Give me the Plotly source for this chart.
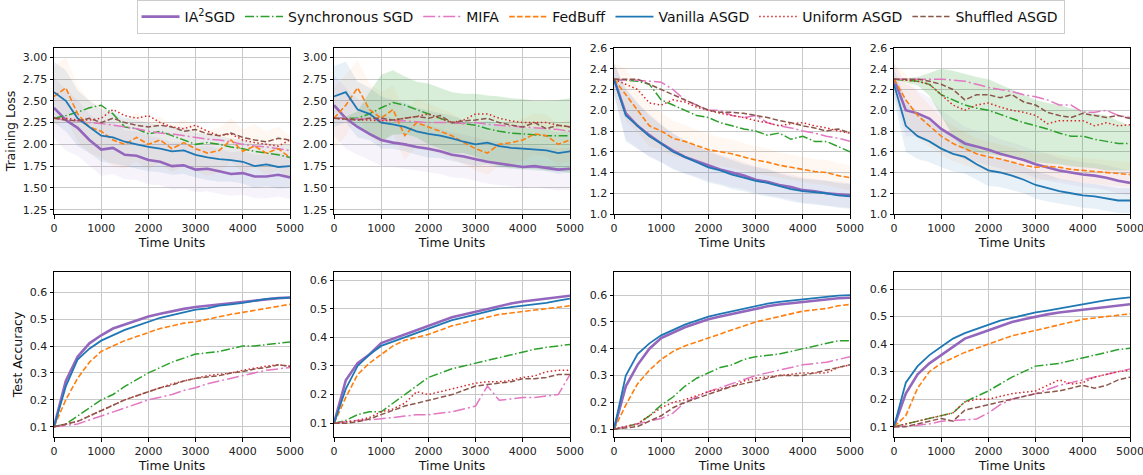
import plotly.graph_objects as go
from plotly.subplots import make_subplots

TIME = list(range(0, 5001, 250))
NAMES = ["IA<sup>2</sup>SGD", "Synchronous SGD", "MIFA", "FedBuff",
         "Vanilla ASGD", "Uniform ASGD", "Shuffled ASGD"]
KEYS = ["ia2", "sync", "mifa", "fedbuff", "vanilla", "uniform", "shuffled"]

# ---------------- Training loss panels ----------------
L1_ia2 = [2.42, 2.28, 2.19, 2.05, 1.94, 1.96, 1.88, 1.87, 1.82, 1.80, 1.75, 1.76, 1.71, 1.72, 1.69, 1.66, 1.67, 1.63, 1.63, 1.65, 1.62]
L1_sync = [2.30, 2.33, 2.37, 2.42, 2.45, 2.35, 2.20, 2.18, 2.12, 2.15, 2.10, 2.05, 2.00, 2.02, 2.00, 1.97, 1.95, 1.92, 1.90, 1.88, 1.85]
L1_mifa = [2.30, 2.28, 2.27, 2.25, 2.24, 2.22, 2.20, 2.18, 2.15, 2.13, 2.12, 2.10, 2.08, 2.06, 2.05, 2.03, 2.00, 1.98, 1.97, 1.95, 1.93]
L1_fedbuff = [2.55, 2.65, 2.35, 2.20, 2.15, 2.05, 2.00, 2.08, 2.00, 2.05, 1.95, 2.02, 1.95, 1.90, 1.93, 2.05, 1.92, 1.98, 1.90, 1.95, 1.85]
L1_vanilla = [2.60, 2.50, 2.30, 2.20, 2.10, 2.08, 2.03, 2.00, 1.97, 1.95, 1.92, 1.93, 1.88, 1.85, 1.83, 1.82, 1.80, 1.75, 1.77, 1.74, 1.75]
L1_uniform = [2.30, 2.30, 2.28, 2.28, 2.30, 2.40, 2.33, 2.30, 2.33, 2.25, 2.20, 2.18, 2.22, 2.15, 2.10, 2.12, 2.05, 2.02, 2.00, 1.98, 2.05]
L1_shuffled = [2.30, 2.28, 2.27, 2.30, 2.25, 2.30, 2.25, 2.22, 2.20, 2.22, 2.20, 2.15, 2.17, 2.12, 2.10, 2.13, 2.08, 2.05, 2.03, 2.07, 2.05]
L1_spread = [0.35, 0.35, 0.32, 0.30, 0.30, 0.30, 0.28, 0.28, 0.28, 0.27, 0.27, 0.27, 0.26, 0.26, 0.26, 0.25, 0.25, 0.25, 0.25, 0.25, 0.25]

L2_ia2 = [2.45, 2.30, 2.20, 2.12, 2.05, 2.02, 2.00, 1.97, 1.95, 1.92, 1.88, 1.86, 1.83, 1.80, 1.78, 1.76, 1.74, 1.75, 1.73, 1.71, 1.72]
L2_sync = [2.30, 2.30, 2.30, 2.35, 2.42, 2.48, 2.45, 2.40, 2.35, 2.30, 2.25, 2.24, 2.22, 2.18, 2.15, 2.13, 2.12, 2.11, 2.10, 2.10, 2.10]
L2_sync_hi = [2.30, 2.32, 2.38, 2.60, 2.80, 2.85, 2.78, 2.72, 2.70, 2.65, 2.60, 2.58, 2.58, 2.56, 2.55, 2.53, 2.52, 2.50, 2.50, 2.51, 2.53]
L2_sync_lo = [2.30, 2.28, 2.22, 2.10, 2.04, 2.11, 2.12, 2.08, 2.00, 1.95, 1.90, 1.90, 1.86, 1.80, 1.75, 1.73, 1.72, 1.72, 1.70, 1.69, 1.67]
L2_mifa = [2.30, 2.30, 2.29, 2.29, 2.28, 2.27, 2.27, 2.26, 2.25, 2.25, 2.25, 2.24, 2.25, 2.23, 2.22, 2.21, 2.20, 2.19, 2.18, 2.17, 2.15]
L2_fedbuff = [2.30, 2.45, 2.65, 2.40, 2.30, 2.40, 2.10, 2.25, 2.20, 2.15, 2.10, 2.02, 1.95, 1.90, 2.00, 2.02, 2.05, 2.12, 2.10, 2.00, 2.05]
L2_vanilla = [2.55, 2.60, 2.40, 2.35, 2.25, 2.23, 2.20, 2.15, 2.12, 2.10, 2.07, 2.03, 2.00, 2.02, 1.98, 1.96, 1.95, 1.94, 1.93, 1.90, 1.92]
L2_uniform = [2.30, 2.29, 2.28, 2.28, 2.27, 2.28, 2.30, 2.32, 2.35, 2.30, 2.25, 2.28, 2.35, 2.35, 2.30, 2.27, 2.25, 2.25, 2.25, 2.22, 2.20]
L2_shuffled = [2.30, 2.29, 2.28, 2.30, 2.30, 2.28, 2.30, 2.32, 2.30, 2.33, 2.25, 2.27, 2.28, 2.30, 2.25, 2.22, 2.20, 2.25, 2.18, 2.22, 2.20]
L2_spread = [0.35, 0.35, 0.32, 0.30, 0.30, 0.28, 0.28, 0.27, 0.27, 0.26, 0.26, 0.25, 0.25, 0.25, 0.25, 0.24, 0.24, 0.24, 0.24, 0.24, 0.24]

L3_ia2 = [2.30, 1.97, 1.85, 1.76, 1.68, 1.61, 1.55, 1.51, 1.47, 1.43, 1.40, 1.37, 1.33, 1.31, 1.28, 1.26, 1.23, 1.22, 1.20, 1.19, 1.18]
L3_sync = [2.30, 2.29, 2.28, 2.25, 2.10, 2.05, 2.00, 1.95, 1.93, 1.88, 1.85, 1.82, 1.80, 1.76, 1.78, 1.72, 1.75, 1.70, 1.70, 1.65, 1.60]
L3_mifa = [2.30, 2.29, 2.29, 2.28, 2.27, 2.20, 2.10, 2.05, 2.00, 2.00, 1.95, 1.93, 1.95, 1.88, 1.85, 1.83, 1.80, 1.78, 1.75, 1.73, 1.70]
L3_fedbuff = [2.30, 2.15, 2.00, 1.85, 1.80, 1.73, 1.70, 1.66, 1.62, 1.60, 1.58, 1.55, 1.52, 1.50, 1.47, 1.45, 1.43, 1.41, 1.40, 1.37, 1.35]
L3_vanilla = [2.30, 1.95, 1.85, 1.75, 1.68, 1.60, 1.55, 1.50, 1.45, 1.42, 1.38, 1.35, 1.32, 1.30, 1.27, 1.24, 1.22, 1.21, 1.20, 1.18, 1.17]
L3_uniform = [2.30, 2.25, 2.20, 2.07, 2.05, 2.10, 2.08, 2.03, 2.00, 1.97, 1.95, 1.93, 1.90, 1.88, 1.85, 1.87, 1.88, 1.85, 1.83, 1.80, 1.78]
L3_shuffled = [2.30, 2.30, 2.30, 2.25, 2.20, 2.15, 2.10, 2.05, 2.00, 1.98, 1.98, 1.97, 1.95, 1.93, 1.90, 1.88, 1.85, 1.83, 1.80, 1.82, 1.78]
L3_spread = [0.15, 0.25, 0.22, 0.20, 0.18, 0.17, 0.16, 0.15, 0.15, 0.14, 0.14, 0.13, 0.13, 0.13, 0.12, 0.12, 0.12, 0.12, 0.12, 0.12, 0.12]

L4_ia2 = [2.30, 2.00, 1.97, 1.92, 1.82, 1.75, 1.68, 1.65, 1.62, 1.58, 1.55, 1.52, 1.48, 1.45, 1.42, 1.40, 1.38, 1.37, 1.35, 1.32, 1.30]
L4_sync = [2.30, 2.29, 2.28, 2.25, 2.15, 2.10, 2.05, 2.02, 2.00, 1.96, 1.92, 1.88, 1.85, 1.82, 1.78, 1.75, 1.75, 1.72, 1.70, 1.68, 1.68]
L4_sync_hi = [2.30, 2.31, 2.32, 2.36, 2.40, 2.38, 2.35, 2.32, 2.30, 2.25, 2.20, 2.15, 2.10, 2.07, 2.05, 2.02, 2.00, 1.97, 1.95, 1.90, 1.85]
L4_sync_lo = [2.30, 2.27, 2.24, 2.14, 1.95, 1.75, 1.62, 1.60, 1.58, 1.56, 1.55, 1.52, 1.50, 1.49, 1.48, 1.46, 1.45, 1.44, 1.42, 1.42, 1.42]
L4_mifa = [2.30, 2.30, 2.30, 2.30, 2.30, 2.29, 2.28, 2.25, 2.22, 2.20, 2.18, 2.15, 2.13, 2.10, 2.05, 2.05, 1.98, 1.98, 2.00, 1.95, 1.93]
L4_fedbuff = [2.30, 2.10, 1.95, 1.85, 1.75, 1.68, 1.63, 1.58, 1.55, 1.53, 1.50, 1.47, 1.45, 1.46, 1.45, 1.43, 1.42, 1.41, 1.40, 1.39, 1.38]
L4_vanilla = [2.25, 1.85, 1.75, 1.70, 1.63, 1.58, 1.55, 1.48, 1.42, 1.40, 1.37, 1.33, 1.28, 1.25, 1.22, 1.20, 1.18, 1.17, 1.15, 1.13, 1.13]
L4_uniform = [2.30, 2.29, 2.28, 2.25, 2.15, 2.05, 2.00, 2.05, 2.07, 2.03, 2.00, 1.98, 1.95, 1.87, 1.90, 1.90, 1.90, 1.85, 1.88, 1.85, 1.86]
L4_shuffled = [2.30, 2.30, 2.30, 2.28, 2.25, 2.20, 2.10, 2.15, 2.15, 2.12, 2.15, 2.08, 2.05, 1.98, 1.95, 1.93, 1.97, 1.95, 1.93, 1.95, 1.92]
L4_spread = [0.15, 0.25, 0.22, 0.20, 0.18, 0.17, 0.16, 0.15, 0.15, 0.14, 0.14, 0.13, 0.13, 0.13, 0.12, 0.12, 0.12, 0.12, 0.12, 0.12, 0.12]

# ---------------- Test accuracy panels ----------------
A1_ia2 = [0.10, 0.27, 0.36, 0.41, 0.44, 0.465, 0.48, 0.495, 0.51, 0.52, 0.53, 0.538, 0.545, 0.55, 0.555, 0.56, 0.565, 0.57, 0.575, 0.578, 0.58]
A1_sync = [0.10, 0.11, 0.14, 0.17, 0.20, 0.22, 0.25, 0.275, 0.30, 0.32, 0.34, 0.355, 0.37, 0.375, 0.38, 0.39, 0.40, 0.40, 0.405, 0.41, 0.415]
A1_mifa = [0.10, 0.105, 0.11, 0.125, 0.14, 0.155, 0.17, 0.185, 0.20, 0.21, 0.22, 0.235, 0.245, 0.26, 0.27, 0.28, 0.29, 0.30, 0.31, 0.315, 0.32]
A1_fedbuff = [0.10, 0.20, 0.28, 0.34, 0.38, 0.40, 0.42, 0.435, 0.45, 0.465, 0.475, 0.485, 0.49, 0.50, 0.51, 0.518, 0.525, 0.532, 0.54, 0.548, 0.555]
A1_vanilla = [0.10, 0.25, 0.35, 0.39, 0.42, 0.44, 0.46, 0.475, 0.49, 0.505, 0.515, 0.525, 0.535, 0.54, 0.55, 0.555, 0.56, 0.568, 0.575, 0.578, 0.58]
A1_uniform = [0.10, 0.11, 0.12, 0.14, 0.16, 0.18, 0.20, 0.215, 0.23, 0.245, 0.26, 0.27, 0.28, 0.29, 0.295, 0.30, 0.31, 0.318, 0.325, 0.33, 0.325]
A1_shuffled = [0.10, 0.11, 0.12, 0.14, 0.16, 0.18, 0.20, 0.215, 0.23, 0.245, 0.255, 0.27, 0.28, 0.285, 0.29, 0.30, 0.305, 0.315, 0.32, 0.33, 0.325]

A2_ia2 = [0.10, 0.25, 0.31, 0.34, 0.38, 0.395, 0.41, 0.425, 0.44, 0.455, 0.47, 0.48, 0.49, 0.50, 0.51, 0.518, 0.525, 0.53, 0.535, 0.54, 0.545]
A2_sync = [0.10, 0.11, 0.13, 0.14, 0.14, 0.17, 0.20, 0.23, 0.26, 0.275, 0.29, 0.30, 0.31, 0.32, 0.33, 0.34, 0.35, 0.358, 0.365, 0.37, 0.375]
A2_mifa = [0.10, 0.105, 0.11, 0.112, 0.115, 0.12, 0.125, 0.13, 0.13, 0.135, 0.14, 0.15, 0.16, 0.23, 0.18, 0.185, 0.19, 0.19, 0.195, 0.20, 0.27]
A2_fedbuff = [0.10, 0.19, 0.27, 0.31, 0.34, 0.37, 0.39, 0.40, 0.41, 0.425, 0.44, 0.45, 0.46, 0.47, 0.48, 0.485, 0.49, 0.495, 0.50, 0.505, 0.51]
A2_vanilla = [0.10, 0.22, 0.30, 0.34, 0.37, 0.385, 0.40, 0.415, 0.43, 0.445, 0.46, 0.47, 0.48, 0.49, 0.50, 0.505, 0.51, 0.515, 0.52, 0.528, 0.535]
A2_uniform = [0.10, 0.105, 0.11, 0.12, 0.14, 0.15, 0.17, 0.21, 0.20, 0.21, 0.22, 0.23, 0.24, 0.245, 0.245, 0.25, 0.26, 0.265, 0.28, 0.285, 0.285]
A2_shuffled = [0.10, 0.10, 0.105, 0.115, 0.13, 0.145, 0.16, 0.17, 0.18, 0.19, 0.20, 0.215, 0.23, 0.235, 0.24, 0.245, 0.255, 0.255, 0.26, 0.27, 0.27]

A3_ia2 = [0.10, 0.26, 0.34, 0.40, 0.44, 0.46, 0.48, 0.495, 0.51, 0.52, 0.53, 0.54, 0.55, 0.558, 0.565, 0.57, 0.575, 0.58, 0.585, 0.588, 0.59]
A3_sync = [0.10, 0.11, 0.12, 0.15, 0.19, 0.22, 0.26, 0.29, 0.31, 0.33, 0.34, 0.36, 0.37, 0.375, 0.38, 0.39, 0.40, 0.41, 0.42, 0.43, 0.43]
A3_mifa = [0.10, 0.11, 0.12, 0.13, 0.14, 0.16, 0.20, 0.22, 0.24, 0.255, 0.27, 0.285, 0.30, 0.31, 0.32, 0.33, 0.34, 0.345, 0.35, 0.36, 0.37]
A3_fedbuff = [0.10, 0.19, 0.27, 0.32, 0.36, 0.39, 0.41, 0.425, 0.44, 0.455, 0.47, 0.485, 0.50, 0.51, 0.52, 0.53, 0.54, 0.545, 0.55, 0.56, 0.565]
A3_vanilla = [0.10, 0.30, 0.38, 0.42, 0.45, 0.47, 0.49, 0.505, 0.52, 0.53, 0.54, 0.55, 0.56, 0.568, 0.575, 0.58, 0.585, 0.59, 0.595, 0.598, 0.60]
A3_uniform = [0.10, 0.11, 0.12, 0.15, 0.18, 0.20, 0.21, 0.225, 0.24, 0.25, 0.26, 0.28, 0.29, 0.295, 0.30, 0.305, 0.31, 0.31, 0.31, 0.33, 0.34]
A3_shuffled = [0.10, 0.105, 0.11, 0.13, 0.15, 0.18, 0.20, 0.215, 0.23, 0.245, 0.26, 0.27, 0.28, 0.29, 0.30, 0.30, 0.30, 0.31, 0.32, 0.33, 0.34]

A4_ia2 = [0.10, 0.22, 0.29, 0.33, 0.36, 0.39, 0.42, 0.435, 0.45, 0.465, 0.48, 0.49, 0.50, 0.508, 0.515, 0.52, 0.525, 0.53, 0.535, 0.54, 0.545]
A4_sync = [0.10, 0.11, 0.12, 0.13, 0.14, 0.15, 0.19, 0.21, 0.23, 0.255, 0.28, 0.30, 0.32, 0.325, 0.33, 0.34, 0.35, 0.36, 0.37, 0.38, 0.385]
A4_mifa = [0.10, 0.102, 0.105, 0.11, 0.12, 0.122, 0.125, 0.128, 0.15, 0.18, 0.20, 0.21, 0.22, 0.235, 0.25, 0.26, 0.27, 0.28, 0.29, 0.30, 0.31]
A4_fedbuff = [0.10, 0.14, 0.24, 0.30, 0.33, 0.35, 0.37, 0.385, 0.40, 0.415, 0.43, 0.44, 0.45, 0.46, 0.47, 0.48, 0.49, 0.495, 0.50, 0.505, 0.51]
A4_vanilla = [0.10, 0.26, 0.32, 0.36, 0.39, 0.42, 0.44, 0.455, 0.47, 0.485, 0.495, 0.505, 0.515, 0.522, 0.53, 0.538, 0.545, 0.552, 0.56, 0.565, 0.57]
A4_uniform = [0.10, 0.11, 0.12, 0.13, 0.14, 0.15, 0.19, 0.20, 0.20, 0.21, 0.22, 0.225, 0.23, 0.25, 0.27, 0.255, 0.26, 0.28, 0.29, 0.30, 0.305]
A4_shuffled = [0.10, 0.10, 0.11, 0.12, 0.13, 0.12, 0.16, 0.17, 0.18, 0.19, 0.20, 0.21, 0.22, 0.225, 0.23, 0.24, 0.25, 0.24, 0.25, 0.27, 0.28]

# tick labels
X_TICKS = [0, 1000, 2000, 3000, 4000, 5000]
LOSS_TICKS_A = [1.25, 1.50, 1.75, 2.00, 2.25, 2.50, 2.75, 3.00]
LOSS_TICKS_B = [1.0, 1.2, 1.4, 1.6, 1.8, 2.0, 2.2, 2.4, 2.6]
ACC_TICKS = [0.1, 0.2, 0.3, 0.4, 0.5, 0.6]

g = globals()
PANELS = []
for p in ["L1", "L2", "L3", "L4", "A1", "A2", "A3", "A4"]:
    PANELS.append({k: g[f"{p}_{k}"] for k in KEYS})
BANDS = {1: (L2_sync_hi, L2_sync_lo), 3: (L4_sync_hi, L4_sync_lo)}
SPREADS = {0: L1_spread, 1: L2_spread, 2: L3_spread, 3: L4_spread}

STYLE = {
    "ia2": dict(color="#9467bd", dash="solid", width=2.6),
    "sync": dict(color="#2ca02c", dash="9px,2.5px,1.5px,2.5px", width=1.5),
    "mifa": dict(color="#e377c2", dash="12px,3px,2px,3px", width=1.5),
    "fedbuff": dict(color="#ff7f0e", dash="5.5px,2.4px", width=1.6),
    "vanilla": dict(color="#1f77b4", dash="solid", width=1.8),
    "uniform": dict(color="#d62728", dash="1.5px,2.5px", width=1.5),
    "shuffled": dict(color="#8c564b", dash="5.5px,2.4px", width=1.5),
}
HAZE = {"vanilla": "rgba(31,119,180,0.10)", "ia2": "rgba(148,103,189,0.08)",
        "fedbuff": "rgba(255,127,14,0.06)"}

# figure is slightly wider than the window so the last "5000" tick label is kept
W, H = 1152, 475
XDOM = [(54, 290), (334, 570), (614, 850), (894, 1130)]
YDOM = [(48, 214), (272, 437)]
YRANGES = [(1.2, 3.107), (1.2, 3.107), (1.0, 2.6), (1.0, 2.6),
           (0.062, 0.675), (0.052, 0.628), (0.071, 0.686), (0.0625, 0.662)]

fig = make_subplots(rows=2, cols=4)
for i, panel in enumerate(PANELS):
    r, c = i // 4 + 1, i % 4 + 1
    if i in SPREADS:
        sp = SPREADS[i]
        for k, col in HAZE.items():
            hi = [v + s for v, s in zip(panel[k], sp)]
            lo = [v - s for v, s in zip(panel[k], sp)]
            fig.add_trace(go.Scatter(x=TIME, y=hi, mode="lines", line=dict(width=0),
                                     showlegend=False, hoverinfo="skip"), row=r, col=c)
            fig.add_trace(go.Scatter(x=TIME, y=lo, mode="lines", line=dict(width=0),
                                     fill="tonexty", fillcolor=col,
                                     showlegend=False, hoverinfo="skip"), row=r, col=c)
    if i in BANDS:
        hi, lo = BANDS[i]
        fig.add_trace(go.Scatter(x=TIME, y=hi, mode="lines", line=dict(width=0),
                                 showlegend=False, hoverinfo="skip"), row=r, col=c)
        fig.add_trace(go.Scatter(x=TIME, y=lo, mode="lines", line=dict(width=0),
                                 fill="tonexty", fillcolor="rgba(44,160,44,0.18)",
                                 showlegend=False, hoverinfo="skip"), row=r, col=c)
    for k, name in zip(KEYS, NAMES):
        fig.add_trace(go.Scatter(x=TIME, y=panel[k], mode="lines", name=name,
                                 legendgroup=k, showlegend=(i == 0),
                                 line=STYLE[k]), row=r, col=c)

for i in range(8):
    r, c = i // 4, i % 4
    xa = "xaxis" if i == 0 else f"xaxis{i+1}"
    ya = "yaxis" if i == 0 else f"yaxis{i+1}"
    x0, x1 = XDOM[c]
    y0, y1 = YDOM[r]
    fig.layout[xa].update(
        domain=[x0 / W, x1 / W], range=[0, 5000], tickvals=X_TICKS, automargin=False,
        showgrid=True, gridcolor="#c8c8c8", gridwidth=1, zeroline=False,
        showline=True, linecolor="black", linewidth=1, mirror=True,
        ticks="outside", ticklen=3.5, tickcolor="black",
        tickfont=dict(size=11, color="#222"),
        title=dict(text="Time Units", font=dict(size=12.5, color="#111"), standoff=2))
    if r == 0:
        tv = LOSS_TICKS_A if c < 2 else LOSS_TICKS_B
        fmt = ".2f" if c < 2 else ".1f"
    else:
        tv, fmt = ACC_TICKS, ".1f"
    fig.layout[ya].update(
        domain=[1 - y1 / H, 1 - y0 / H], range=list(YRANGES[i]), tickvals=tv,
        automargin=False,
        tickformat=fmt, showgrid=True, gridcolor="#c8c8c8", gridwidth=1,
        zeroline=False, showline=True, linecolor="black", linewidth=1, mirror=True,
        ticks="outside", ticklen=3.5, tickcolor="black",
        tickfont=dict(size=11, color="#222"))
    if c == 0:
        fig.layout[ya].title = dict(text="Training Loss" if r == 0 else "Test Accuracy",
                                    font=dict(size=12.5, color="#111"), standoff=4)

fig.update_layout(
    width=W, height=H, margin=dict(l=0, r=0, t=0, b=0),
    paper_bgcolor="white", plot_bgcolor="white",
    font=dict(family="DejaVu Sans", color="#111"),
    legend=dict(orientation="h", x=0.5213, xanchor="center", y=1.0, yanchor="top",
                bordercolor="#cccccc", borderwidth=1, font=dict(size=14),
                itemwidth=38, tracegroupgap=0, bgcolor="white"),
)
fig.write_html("out.html", config={"displayModeBar": False},
               post_script="document.body.style.margin='0px';document.body.style.overflow='hidden';")
